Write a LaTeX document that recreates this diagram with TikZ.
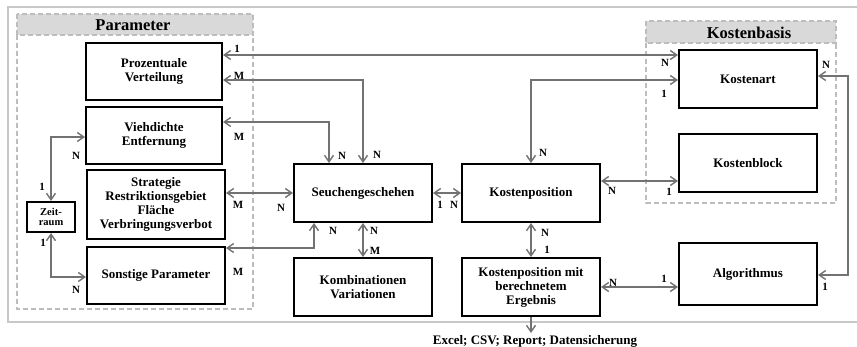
\documentclass[tikz,border=0pt]{standalone}
\usepackage{fontspec}
\setmainfont{Liberation Serif}
\usetikzlibrary{arrows.meta}
\definecolor{conngray}{HTML}{727272}
\definecolor{framegray}{HTML}{C8C8C8}
\definecolor{dashgray}{HTML}{BDBDBD}
\definecolor{headgray}{HTML}{D9D9D9}
\begin{document}
\begin{tikzpicture}[x=1pt,y=-1pt,
  box/.style={draw=black, line width=2pt, fill=white, align=center, inner sep=1pt,
    font=\bfseries\fontsize{13}{14}\selectfont},
  conn/.style={draw=conngray, line width=1.4pt,
    {Straight Barb[length=6.5pt,width=9pt]}-{Straight Barb[length=6.5pt,width=9pt]}},
  connone/.style={draw=conngray, line width=1.4pt, -{Straight Barb[length=6.5pt,width=9pt]}},
  lab/.style={font=\bfseries\fontsize{11}{11}\selectfont, inner sep=0pt},
  grp/.style={draw=dashgray, line width=1.5pt, dash pattern=on 5pt off 3pt},
  head/.style={fill=headgray, draw=dashgray, line width=1.5pt, dash pattern=on 5pt off 3pt},
  ttl/.style={font=\bfseries\fontsize{16.5}{17}\selectfont, inner sep=0pt}]
\useasboundingbox (0,0) rectangle (857,347);
\fill[white] (0,0) rectangle (857,347);
% outer frame
\draw[framegray, line width=2pt] (857,7) -- (8,7) -- (8,322) -- (857,322);
% groups
\draw[head] (17,14) rectangle (253,35);
\draw[grp] (17,35) -- (17,309) -- (253,309) -- (253,35);
\node[ttl] (tpar) at (133,25) {Parameter};
\draw[head] (646,21) rectangle (836,43);
\draw[grp] (646,43) -- (646,203) -- (836,203) -- (836,43);
\node[ttl] (tkb) at (749,33) {Kostenbasis};
% boxes
\node[box, minimum width=136pt, minimum height=57pt] (pv) at (154,71.5) {Prozentuale\\Verteilung};
\node[box, minimum width=136pt, minimum height=57pt] (ve) at (154,135.5) {Viehdichte\\Entfernung};
\node[box, minimum width=138pt, minimum height=69pt] (st) at (156,204.5) {Strategie\\Restriktionsgebiet\\Fläche\\Verbringungsverbot};
\node[box, minimum width=138pt, minimum height=57pt] (so) at (156,275.5) {Sonstige Parameter};
\node[box, minimum width=48pt, minimum height=30pt, font=\bfseries\fontsize{10.5}{10.7}\selectfont] (zr) at (51,217) {Zeit-\\raum};
\node[box, minimum width=138pt, minimum height=58pt] (sg) at (363,193) {Seuchengeschehen};
\node[box, minimum width=138pt, minimum height=58pt] (kv) at (363,287) {Kombinationen\\Variationen};
\node[box, minimum width=138pt, minimum height=58pt] (kp) at (531,193) {Kostenposition};
\node[box, minimum width=138pt, minimum height=58pt] (km) at (531,287) {Kostenposition mit\\berechnetem\\Ergebnis};
\node[box, minimum width=138pt, minimum height=58pt] (ka) at (748,79) {Kostenart};
\node[box, minimum width=138pt, minimum height=58pt] (kb) at (748,163) {Kostenblock};
\node[box, minimum width=138pt, minimum height=62pt] (al) at (748,274) {Algorithmus};
% helper coordinates
\coordinate (h55) at (0,55);
\coordinate (h80) at (0,80);
\coordinate (h76) at (0,76);
\coordinate (h122) at (0,122);
\coordinate (h137) at (0,137);
\coordinate (h181) at (0,181);
\coordinate (h193) at (0,193);
\coordinate (h248) at (0,248);
\coordinate (h275) at (0,275);
\coordinate (h277) at (0,277);
\coordinate (h287) at (0,287);
\coordinate (v314) at (314,0);
\coordinate (v329) at (329,0);
\coordinate (v848) at (848,0);
\coordinate (outp) at (531,333);
% connectors
\draw[conn] (pv.east |- h55) -- (ka.west |- h55);
\draw[conn] (pv.east |- h80) -- (sg.north |- h80) -- (sg.north);
\draw[conn] (ka.west |- h80) -- (kp.north |- h80) -- (kp.north);
\draw[conn] (ve.east |- h122) -- (v329 |- h122) -- (v329 |- sg.north);
\draw[conn] (st.east |- h193) -- (sg.west |- h193);
\draw[conn] (so.east |- h248) -- (v314 |- h248) -- (v314 |- sg.south);
\draw[conn] (sg.south) -- (kv.north);
\draw[conn] (sg.east) -- (kp.west);
\draw[conn] (kp.east |- h181) -- (kb.west |- h181);
\draw[conn] (kp.south) -- (km.north);
\draw[conn] (km.east |- h287) -- (al.west |- h287);
\draw[conn] (ka.east |- h76) -- (v848 |- h76) -- (v848 |- h275) -- (al.east |- h275);
\draw[conn] (ve.west |- h137) -- (zr.north |- h137) -- (zr.north);
\draw[conn] (zr.south) -- (zr.south |- h277) -- (so.west |- h277);
\draw[connone] (km.south) -- (outp);
\node[font=\bfseries\fontsize{13}{14}\selectfont, inner sep=0pt] (outt) at (535,341) {Excel; CSV; Report; Datensicherung};
% labels
\node[lab] (a1) at (237,49) {1};
\node[lab] (a2) at (239,76) {M};
\node[lab] (a3) at (239,137) {M};
\node[lab] (a4) at (76,156) {N};
\node[lab] (a5) at (42,187) {1};
\node[lab] (a6) at (238,205) {M};
\node[lab] (a7) at (281,208) {N};
\node[lab] (a8) at (43,243) {1};
\node[lab] (a9) at (238,272) {M};
\node[lab] (a10) at (76,290) {N};
\node[lab] (a11) at (342,156) {N};
\node[lab] (a12) at (377,155) {N};
\node[lab] (a13) at (543,153) {N};
\node[lab] (a14) at (440,205) {1};
\node[lab] (a15) at (454,205) {N};
\node[lab] (a16) at (333,231) {N};
\node[lab] (a17) at (374,231) {N};
\node[lab] (a18) at (375,251) {M};
\node[lab] (a19) at (545,233) {N};
\node[lab] (a20) at (547,250) {1};
\node[lab] (a21) at (665,63) {N};
\node[lab] (a22) at (664,94) {1};
\node[lab] (a23) at (826,65) {N};
\node[lab] (a24) at (612,191) {N};
\node[lab] (a25) at (669,192) {1};
\node[lab] (a26) at (613,283) {N};
\node[lab] (a27) at (664,279) {1};
\node[lab] (a28) at (825,287) {1};
\end{tikzpicture}
\end{document}
